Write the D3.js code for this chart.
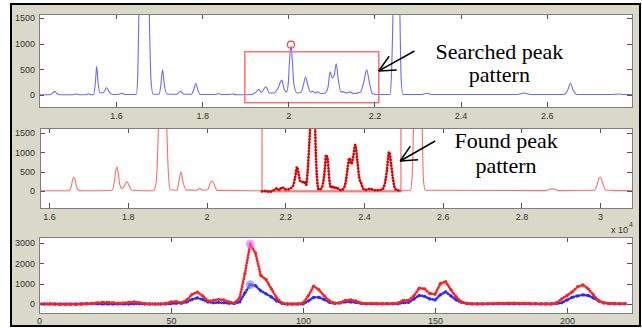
<!DOCTYPE html>
<meta charset="utf-8">
<script src="https://cdn.jsdelivr.net/npm/d3@7"></script>
<style>
    body { margin: 0; background: #fff; }
    svg { display: block; }
    .tick text { font: 9px "Liberation Sans", Arial, sans-serif; fill: #333; }
    .tick line { stroke: #555; shape-rendering: crispEdges; }
    .frame { fill: none; stroke: #7f7f7f; shape-rendering: crispEdges; }
    .note { font: 22px "Liberation Serif", "Times New Roman", serif; fill: #000; }
</style>
<body>
<script>

// top panel: searched chromatogram, [x (x10^4), intensity]
var searched = [
    [1.421,5],[1.445,5],[1.452,30],[1.457,70],[1.462,30],[1.470,5],
    [1.500,5],[1.508,20],[1.515,5],
    [1.530,5],[1.536,25],[1.542,5],
    [1.548,10],[1.552,250],[1.555,560],[1.558,250],[1.563,40],
    [1.572,60],[1.578,140],[1.584,60],[1.592,10],
    [1.605,10],[1.613,35],[1.620,10],
    [1.647,10],[1.650,300],[1.653,1600],[1.657,3500],[1.665,5000],[1.673,3500],[1.677,1600],[1.681,300],[1.686,15],
    [1.700,15],[1.704,200],[1.708,490],[1.712,200],[1.718,20],
    [1.740,15],[1.750,70],[1.758,15],
    [1.775,15],[1.781,120],[1.785,230],[1.789,120],[1.796,10],
    [1.830,10],[1.838,25],[1.845,10],
    [1.860,10],[1.870,20],[1.880,5],
    [1.915,10],[1.925,60],[1.931,110],[1.937,50],[1.948,160],[1.956,40],
    [1.966,40],[1.975,120],[1.985,290],[1.990,120],[1.996,60],
    [2.000,250],[2.003,700],[2.006,960],[2.009,700],[2.013,200],[2.020,40],
    [2.030,60],[2.035,200],[2.040,350],[2.045,200],[2.051,60],
    [2.057,70],[2.062,40],[2.068,60],[2.075,30],
    [2.085,40],[2.092,150],[2.097,450],[2.102,330],[2.107,400],[2.111,610],[2.116,300],[2.122,60],
    [2.128,60],[2.135,40],[2.143,60],[2.152,30],
    [2.168,60],[2.175,250],[2.182,490],[2.188,250],[2.195,30],
    [2.205,10],[2.236,10],[2.239,300],[2.243,1600],[2.247,4000],[2.251,6000],[2.255,4000],[2.259,1600],[2.262,300],[2.266,10],
    [2.310,10],[2.322,35],[2.332,10],
    [2.530,10],[2.548,40],[2.562,10],
    [2.640,10],[2.649,100],[2.655,230],[2.661,100],[2.670,10],
    [2.750,10],[2.767,20],[2.780,10],[2.798,10]
];
var searchBox = [1.899, 2.210, -150, 843];

// middle panel: target chromatogram and the matched stretch
var found = [
    [1.577,5],[1.650,5],[1.656,100],[1.660,300],[1.663,360],[1.666,300],[1.670,100],[1.677,10],
    [1.700,5],[1.760,20],[1.766,250],[1.770,550],[1.773,620],[1.776,450],[1.780,150],[1.786,60],[1.792,150],[1.798,240],[1.803,150],[1.810,20],
    [1.865,5],[1.871,150],[1.875,700],[1.878,1700],[1.883,3500],[1.889,4000],[1.895,3500],[1.899,1700],[1.903,500],[1.908,30],
    [1.925,20],[1.930,250],[1.935,490],[1.940,250],[1.948,30],
    [1.975,20],[1.983,70],[1.990,20],
    [2.003,30],[2.009,200],[2.014,260],[2.019,180],[2.027,15],
    [2.141,5],[2.494,5],
    [2.518,20],[2.522,300],[2.526,1700],[2.531,4000],[2.537,4500],[2.543,4000],[2.548,1700],[2.551,300],[2.556,20],
    [2.860,10],[2.872,40],[2.878,60],[2.884,40],[2.895,10],
    [2.985,20],[2.992,150],[2.996,300],[3.000,360],[3.004,300],[3.008,150],[3.016,20],
    [3.030,20],[3.040,10],[3.081,10]
];
var foundZoom = [
    [2.141,-10],[2.150,0],[2.160,-20],[2.168,10],[2.174,40],[2.179,70],[2.185,20],[2.190,80],[2.194,90],[2.199,40],
    [2.205,40],[2.212,60],[2.217,100],[2.221,160],[2.225,350],[2.230,620],[2.234,450],[2.238,260],[2.243,230],[2.248,250],
    [2.253,160],[2.257,500],[2.261,1200],[2.265,1900],[2.270,2400],[2.275,1900],[2.278,900],[2.281,300],[2.285,40],[2.290,50],
    [2.295,150],[2.300,500],[2.304,930],[2.308,800],[2.312,300],[2.316,80],[2.321,130],[2.326,60],[2.331,100],[2.336,40],
    [2.342,20],[2.348,60],[2.353,200],[2.358,550],[2.363,850],[2.368,700],[2.373,900],[2.378,1190],[2.383,800],[2.388,350],
    [2.393,200],[2.398,60],[2.405,30],[2.410,40],[2.415,60],[2.421,40],[2.430,20],[2.445,30],[2.452,150],[2.458,500],
    [2.464,1010],[2.469,700],[2.474,300],[2.479,60],[2.485,20],[2.494,10]
];
var foundBox = [2.141, 2.494];

// bottom panel: match profile, one value every 2 samples from 0
var matchStep = 2;
var matchRed = [
    0,0,0,0,-20,-20,-20,-20,-10,0,
    20,60,80,80,60,40,50,80,100,70,
    20,0,0,0,30,100,120,60,200,480,
    580,400,150,180,230,200,100,50,300,1500,
    2950,2500,1400,1200,750,300,50,0,0,0,
    50,400,880,700,400,150,40,60,180,200,
    150,50,20,30,20,10,20,20,50,180,
    180,400,780,750,520,480,1000,1100,700,350,
    100,30,10,0,0,20,20,30,30,40,
    40,30,30,20,20,0,0,0,60,250,
    420,600,850,940,750,450,150,50,30,20,
    20,20
];
var matchBlue = [
    0,0,0,0,0,0,0,0,10,20,
    20,10,0,0,0,0,0,0,10,10,
    0,0,0,0,0,20,40,40,100,230,
    300,220,100,60,80,60,40,30,100,550,
    950,900,650,500,350,150,40,0,0,0,
    0,150,330,330,220,80,30,50,100,100,
    80,30,10,10,10,10,10,10,10,60,
    80,250,420,380,250,200,450,600,400,200,
    80,30,10,10,10,10,10,10,10,10,
    10,10,10,10,10,10,10,10,20,60,
    200,330,400,450,420,300,150,60,20,10,
    10,10
];

var xTicks1 = [1.6, 1.8, 2, 2.2, 2.4, 2.6];
var xLabels1 = ["1.6", "1.8", "2", "2.2", "2.4", "2.6"];
var xTicks2 = [1.6, 1.8, 2, 2.2, 2.4, 2.6, 2.8, 3];
var xLabels2 = ["1.6", "1.8", "2", "2.2", "2.4", "2.6", "2.8", "3"];
var xTicks3 = [0, 50, 100, 150, 200];
var yTicks12 = [0, 500, 1000, 1500];
var yTicks3 = [0, 1000, 2000, 3000];

var notes = [
    {panel: 0, lines: ["Searched peak", "pattern"], x: 2.49, y: [701, 253], tip: [2.210, 468], tail: [2.293, 857]},
    {panel: 1, lines: ["Found peak", "pattern"], x: 2.761, y: [1112, 465], tip: [2.492, 776], tail: [2.581, 1293]}
];

var W = 642, H = 328;
var svg = d3.select("body").append("svg")
    .attr("width", W)
    .attr("height", H);

svg.append("rect")
    .attr("x", 11).attr("y", 4)
    .attr("width", 629).attr("height", 322)
    .attr("fill", "#dad9c9")
    .attr("stroke", "#000")
    .attr("stroke-width", 2);

function makePanel(o) {
    var x = d3.scaleLinear().domain(o.xd).range([o.l, o.r]);
    var y = d3.scaleLinear().domain(o.yd).range([o.b, o.t]);
    svg.append("rect")
        .attr("x", o.l).attr("y", o.t)
        .attr("width", o.r - o.l).attr("height", o.b - o.t)
        .attr("fill", "#fff");
    svg.append("clipPath").attr("id", o.id)
        .append("rect")
        .attr("x", o.l).attr("y", o.t)
        .attr("width", o.r - o.l).attr("height", o.b - o.t);
    var plot = svg.append("g").attr("clip-path", "url(#" + o.id + ")");
    return {x: x, y: y, plot: plot, o: o};
}

function finishPanel(p) {
    var o = p.o;
    var fmtX = o.xl ? function (d, i) { return o.xl[i]; } : d3.format("d");
    svg.append("g")
        .attr("transform", "translate(0," + o.b + ")")
        .call(d3.axisBottom(p.x).tickValues(o.xt).tickFormat(fmtX)
            .tickSizeInner(-5).tickSizeOuter(0).tickPadding(o.xpad))
        .select(".domain").remove();
    svg.append("g")
        .attr("transform", "translate(0," + o.t + ")")
        .call(d3.axisTop(p.x).tickValues(o.xt).tickFormat("")
            .tickSizeInner(-5).tickSizeOuter(0))
        .select(".domain").remove();
    svg.append("g")
        .attr("transform", "translate(" + o.l + ",0)")
        .call(d3.axisLeft(p.y).tickValues(o.yt).tickFormat(d3.format("d"))
            .tickSizeInner(-5).tickSizeOuter(0).tickPadding(o.ypad))
        .select(".domain").remove();
    svg.append("g")
        .attr("transform", "translate(" + o.r + ",0)")
        .call(d3.axisRight(p.y).tickValues(o.yt).tickFormat("")
            .tickSizeInner(-5).tickSizeOuter(0))
        .select(".domain").remove();
    svg.append("rect")
        .attr("class", "frame")
        .attr("x", o.l).attr("y", o.t)
        .attr("width", o.r - o.l).attr("height", o.b - o.t);
}

function traceLine(p) {
    return d3.line()
        .x(function (d) { return p.x(d[0]); })
        .y(function (d) { return p.y(d[1]); })
        .curve(d3.curveMonotoneX);
}

// ---- panel 1
var p1 = makePanel({id: "c1", l: 39, r: 632, t: 14, b: 107, xd: [1.421, 2.798], yd: [-234, 1578],
    xt: xTicks1, xl: xLabels1, yt: yTicks12, xpad: 6, ypad: 4});

p1.plot.append("path")
    .attr("d", traceLine(p1)(searched))
    .attr("fill", "none")
    .attr("stroke", "#6a6aff")
    .attr("stroke-width", 1.1);

p1.plot.append("rect")
    .attr("x", p1.x(searchBox[0]))
    .attr("y", p1.y(searchBox[3]))
    .attr("width", p1.x(searchBox[1]) - p1.x(searchBox[0]))
    .attr("height", p1.y(searchBox[2]) - p1.y(searchBox[3]))
    .attr("fill", "none")
    .attr("stroke", "#ff7070")
    .attr("stroke-width", 1.5);

var top1 = d3.greatest(searched.filter(function (d) {
    return d[0] >= searchBox[0] && d[0] <= searchBox[1];
}), function (d) { return d[1]; });
p1.plot.append("circle")
    .attr("cx", p1.x(top1[0]))
    .attr("cy", p1.y(top1[1]) - 1)
    .attr("r", 3.5)
    .attr("fill", "none")
    .attr("stroke", "#ff4040")
    .attr("stroke-width", 1.2);

finishPanel(p1);

// ---- panel 2
var p2 = makePanel({id: "c2", l: 40, r: 632, t: 128, b: 208, xd: [1.577, 3.081], yd: [-440, 1629],
    xt: xTicks2, xl: xLabels2, yt: yTicks12, xpad: 6, ypad: 5});

p2.plot.append("path")
    .attr("d", traceLine(p2)(found))
    .attr("fill", "none")
    .attr("stroke", "#ff6a6a")
    .attr("stroke-width", 1.1);

p2.plot.append("rect")
    .attr("x", p2.x(foundBox[0]))
    .attr("y", p2.y(5000))
    .attr("width", p2.x(foundBox[1]) - p2.x(foundBox[0]))
    .attr("height", p2.y(-20) - p2.y(5000))
    .attr("fill", "none")
    .attr("stroke", "#ff6a6a")
    .attr("stroke-width", 1.2);

var zoomPath = traceLine(p2)(foundZoom);
p2.plot.append("path")
    .attr("d", zoomPath)
    .attr("fill", "none")
    .attr("stroke", "#ee1010")
    .attr("stroke-width", 1);
p2.plot.append("path")
    .attr("d", zoomPath)
    .attr("fill", "none")
    .attr("stroke", "#e00000")
    .attr("stroke-width", 2.8)
    .attr("stroke-linecap", "round")
    .attr("stroke-dasharray", "0.01 3");

finishPanel(p2);

svg.append("text")
    .attr("x", 628).attr("y", 233)
    .attr("text-anchor", "end")
    .style("font", "9px 'Liberation Sans', Arial, sans-serif")
    .attr("fill", "#333")
    .text("x 10");
svg.append("text")
    .attr("x", 629).attr("y", 227)
    .style("font", "7px 'Liberation Sans', Arial, sans-serif")
    .attr("fill", "#333")
    .text("4");

// ---- panel 3
var p3 = makePanel({id: "c3", l: 39, r: 632, t: 237, b: 313, xd: [0, 224.6], yd: [-443, 3295],
    xt: xTicks3, yt: yTicks3, xpad: 5, ypad: 4});

function matchLine(p) {
    return d3.line()
        .x(function (d, i) { return p.x(i * matchStep); })
        .y(function (d) { return p.y(d); });
}

var series3 = [
    {values: matchBlue, color: "#2a2aff"},
    {values: matchRed, color: "#ff2020"}
];
series3.forEach(function (s) {
    var path = matchLine(p3)(s.values);
    p3.plot.append("path")
        .attr("d", path)
        .attr("fill", "none")
        .attr("stroke", s.color)
        .attr("stroke-width", 1);
    p3.plot.append("path")
        .attr("d", path)
        .attr("fill", "none")
        .attr("stroke", s.color)
        .attr("stroke-width", 2.8)
        .attr("stroke-linecap", "round")
        .attr("stroke-dasharray", "0.01 2.7");
    p3.plot.selectAll(null)
        .data(s.values)
        .enter().append("circle")
        .attr("cx", function (d, i) { return p3.x(i * matchStep); })
        .attr("cy", function (d) { return p3.y(d); })
        .attr("r", 1.6)
        .attr("fill", s.color);
});

var peakMarks = [
    {values: matchRed, color: "#ff60ff"},
    {values: matchBlue, color: "#7a7aff"}
];
peakMarks.forEach(function (s) {
    var i = d3.maxIndex(s.values);
    p3.plot.append("circle")
        .attr("cx", p3.x(i * matchStep))
        .attr("cy", p3.y(s.values[i]))
        .attr("r", 4.5)
        .attr("fill", s.color)
        .attr("fill-opacity", 0.6);
});

finishPanel(p3);

// ---- annotations
var panels = [p1, p2];
notes.forEach(function (n) {
    var p = panels[n.panel];
    var t = svg.append("text")
        .attr("class", "note")
        .attr("text-anchor", "middle");
    n.lines.forEach(function (line, i) {
        t.append("tspan")
            .attr("x", p.x(n.x))
            .attr("y", p.y(n.y[i]))
            .text(line);
    });
    var tx = p.x(n.tip[0]), ty = p.y(n.tip[1]);
    var ax = p.x(n.tail[0]), ay = p.y(n.tail[1]);
    var ang = Math.atan2(ay - ty, ax - tx);
    var g = svg.append("g")
        .attr("stroke", "#000")
        .attr("stroke-width", 1.5)
        .attr("fill", "none");
    g.append("line")
        .attr("x1", ax).attr("y1", ay)
        .attr("x2", tx).attr("y2", ty);
    [-0.45, 0.45].forEach(function (da) {
        g.append("line")
            .attr("x1", tx).attr("y1", ty)
            .attr("x2", tx + 18 * Math.cos(ang + da))
            .attr("y2", ty + 18 * Math.sin(ang + da));
    });
});

</script>
</body>
